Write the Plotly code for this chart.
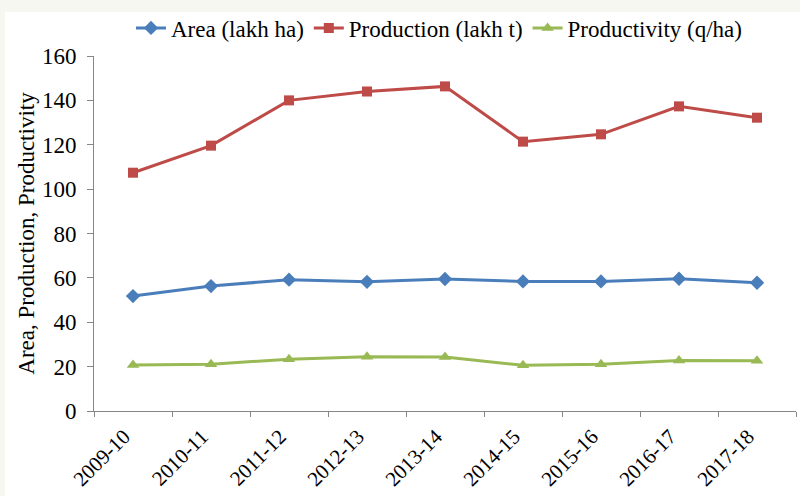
import plotly.graph_objects as go

years = ["2009-10", "2010-11", "2011-12", "2012-13", "2013-14",
         "2014-15", "2015-16", "2016-17", "2017-18"]
area = [51.8, 56.3, 59.2, 58.2, 59.5, 58.4, 58.4, 59.6, 57.8]
production = [107.4, 119.6, 140.0, 144.0, 146.3, 121.4, 124.7, 137.3, 132.2]
productivity = [20.7, 21.1, 23.3, 24.4, 24.3, 20.6, 21.1, 22.8, 22.7]
y_ticks = [0, 20, 40, 60, 80, 100, 120, 140, 160]

FONT = "Liberation Serif"
W, H = 800, 496
ML, MR, MT, MB = 94, 4, 56, 85
PW, PH = W - ML - MR, H - MT - MB

fig = go.Figure()
fig.add_trace(go.Scatter(x=years, y=area, name="Area (lakh ha)", mode="lines+markers",
                         line=dict(color="#4A7EBB", width=3),
                         marker=dict(symbol="diamond", size=11, color="#4A7EBB")))
fig.add_trace(go.Scatter(x=years, y=production, name="Production (lakh t)", mode="lines+markers",
                         line=dict(color="#BE4B48", width=3),
                         marker=dict(symbol="square", size=10, color="#BE4B48")))
fig.add_trace(go.Scatter(x=years, y=productivity, name="Productivity (q/ha)", mode="lines+markers",
                         line=dict(color="#98B954", width=3),
                         marker=dict(symbol="triangle-up", size=11, color="#98B954")))

def px_x(p):
    return (p - ML) / PW

def px_y(p):
    return (H - MB - p) / PH

shapes = [
    dict(type="rect", xref="paper", yref="paper", layer="below",
         x0=px_x(0), x1=px_x(5), y0=px_y(H), y1=px_y(0),
         fillcolor="#F7F7F2", line=dict(width=0)),
    dict(type="rect", xref="paper", yref="paper", layer="below",
         x0=px_x(0), x1=px_x(W), y0=px_y(12), y1=px_y(0),
         fillcolor="#F7F7F2", line=dict(width=0)),
]

fig.update_layout(
    width=W, height=H,
    margin=dict(l=ML, r=MR, t=MT, b=MB, autoexpand=False),
    paper_bgcolor="white", plot_bgcolor="white",
    font=dict(family=FONT, size=20, color="black"),
    shapes=shapes,
    showlegend=True,
    legend=dict(orientation="h", x=px_x(439), xanchor="center",
                y=px_y(28), yanchor="middle",
                font=dict(family=FONT, size=23), bgcolor="rgba(0,0,0,0)",
                itemwidth=30, tracegroupgap=0),
    xaxis=dict(type="category", range=[-0.5, 8.5], tickangle=-45,
               tickson="boundaries", ticks="outside", ticklen=5, automargin=False,
               ticklabelstandoff=4, ticklabelshift=-9,
               tickcolor="#868686", showline=True, linecolor="#868686", linewidth=1,
               showgrid=False, zeroline=False,
               tickfont=dict(family=FONT, size=21)),
    yaxis=dict(range=[0, 160], tickvals=y_ticks, ticks="outside", ticklen=6, automargin=False,
               ticklabelstandoff=6,
               tickcolor="#868686", showline=True, linecolor="#868686", linewidth=1,
               showgrid=False, zeroline=False,
               tickfont=dict(family=FONT, size=23),
               title=dict(text="Area, Production, Productivity",
                          font=dict(family=FONT, size=23), standoff=0)),
)

fig.write_html("out.html", config={"displayModeBar": False},
               post_script="document.body.style.margin='0';")
